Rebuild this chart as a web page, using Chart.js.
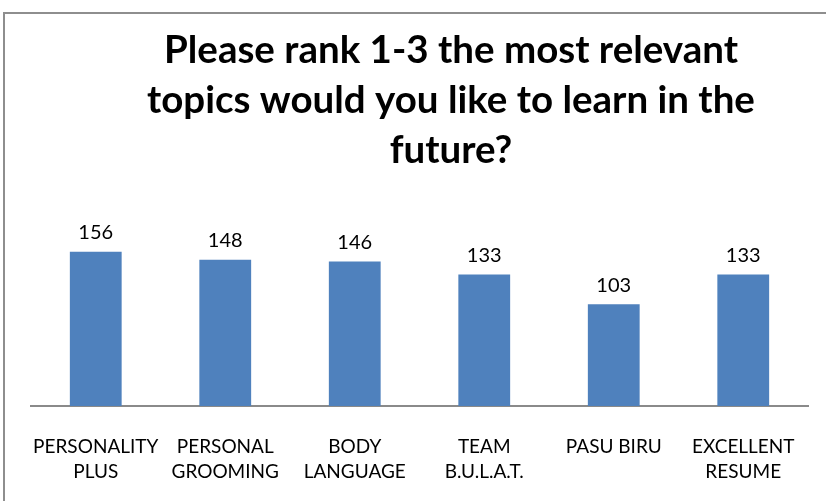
<!DOCTYPE html>
<html>
<head>
<meta charset="utf-8">
<script src="https://cdn.jsdelivr.net/npm/chart.js@4.4.1/dist/chart.umd.min.js"></script>
<style>
  html, body { margin: 0; padding: 0; background: #ffffff; overflow: hidden; }
  #frame { position: absolute; left: 3px; top: 12px; width: 900px; height: 600px; border: 2px solid #8e8e8e; box-sizing: border-box; }
  #wrap { position: absolute; left: 0; top: 0; width: 826px; height: 501px; }
</style>
</head>
<body>
<div id="frame"></div>
<div id="wrap"><canvas id="c" width="826" height="501"></canvas></div>
<script>
const titleLines = ["Please rank 1-3 the most relevant", "topics would you like to learn in the", "future?"];
const categories = [["PERSONALITY", "PLUS"], ["PERSONAL", "GROOMING"], ["BODY", "LANGUAGE"], ["TEAM", "B.U.L.A.T."], "PASU BIRU", ["EXCELLENT", "RESUME"]];
const values = [156, 148, 146, 133, 103, 133];

const titlePlugin = {
  id: 'customTitle',
  afterDraw(chart) {
    const ctx = chart.ctx;
    ctx.save();
    ctx.fillStyle = '#000000';
    ctx.font = 'bold 38.5px Lato';
    ctx.textAlign = 'center';
    ctx.textBaseline = 'alphabetic';
    titleLines.forEach((t, i) => ctx.fillText(t, 451, 63 + i * 50));
    ctx.restore();
  }
};

const labelPlugin = {
  id: 'valueLabels',
  afterDatasetsDraw(chart) {
    const ctx = chart.ctx;
    ctx.save();
    ctx.fillStyle = '#000000';
    ctx.font = '20px Lato';
    ctx.textAlign = 'center';
    ctx.textBaseline = 'middle';
    const meta = chart.getDatasetMeta(0);
    meta.data.forEach((bar, i) => {
      ctx.fillText(String(chart.data.datasets[0].data[i]), bar.x, bar.y - 19);
    });
    ctx.restore();
  }
};

new Chart(document.getElementById('c'), {
  type: 'bar',
  data: {
    labels: categories,
    datasets: [{
      data: values,
      backgroundColor: '#4F81BD',
      borderWidth: 0,
      barPercentage: 0.4,
      categoryPercentage: 1.0
    }]
  },
  options: {
    responsive: false,
    animation: false,
    layout: { padding: { left: 31, right: 18, top: 228, bottom: 19 } },
    plugins: { legend: { display: false }, title: { display: false }, tooltip: { enabled: false } },
    scales: {
      y: { display: false, min: 0, max: 180 },
      x: {
        grid: { display: false, drawTicks: false },
        border: { display: true, color: '#8a8a8a', width: 2 },
        afterFit(scale) { scale.height = 76; },
        ticks: {
          color: '#000000',
          font: { family: 'Lato', size: 19, lineHeight: '25px' },
          padding: 28,
          maxRotation: 0,
          autoSkip: false
        }
      }
    }
  },
  plugins: [titlePlugin, labelPlugin]
});
</script>
</body>
</html>
